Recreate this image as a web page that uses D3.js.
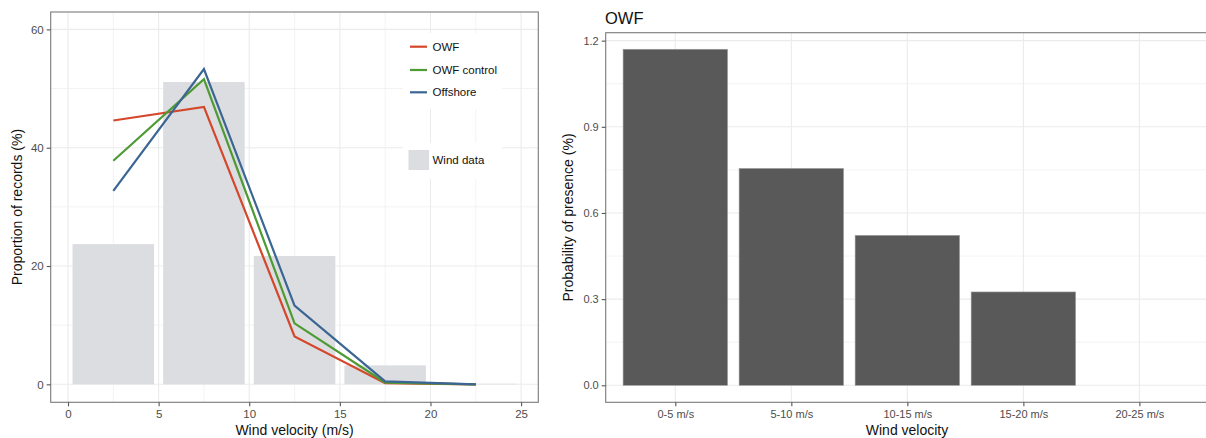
<!DOCTYPE html>
<html><head><meta charset="utf-8">
<script src="https://cdn.jsdelivr.net/npm/d3@7"></script>
<style>
body{margin:0;background:#fff;}
svg{display:block;font-family:"Liberation Sans",Arial,Helvetica,sans-serif;}
</style></head>
<body>
<svg id="chart" width="1206" height="438"></svg>
<script>
// ---- Left panel data ----
const windMid = [2.5, 7.5, 12.5, 17.5, 22.5];
const windData = [23.7, 51.1, 21.7, 3.2, 0.1];
const owf = [44.6, 46.9, 8.1, 0.2, 0.0];
const owfControl = [37.8, 51.6, 10.3, 0.3, 0.0];
const offshore = [32.7, 53.3, 13.3, 0.5, 0.0];
const leftXTicks = [0, 5, 10, 15, 20, 25];
const leftYTicks = [0, 20, 40, 60];
const seriesNames = ["OWF", "OWF control", "Offshore"];
const seriesColors = ["#d4472b", "#4e9a33", "#3b6592"];

// ---- Right panel data ----
const categories = ["0-5 m/s", "5-10 m/s", "10-15 m/s", "15-20 m/s", "20-25 m/s"];
const presence = [1.17, 0.755, 0.522, 0.325, 0];
const rightYTicks = [0.0, 0.3, 0.6, 0.9, 1.2];

const svg = d3.select("#chart");
const gridCol = "#ebebeb", borderCol = "#7a7a7a", tickTxt = "#4d4d4d";

// ================= LEFT =================
const L = {x0: 50.7, x1: 538.3, y0: 12, y1: 402.3};
const xL = d3.scaleLinear().domain([-0.955, 25.95]).range([L.x0, L.x1]);
const yL = d3.scaleLinear().domain([-3.04, 62.94]).range([L.y1, L.y0]);
const gL = svg.append("g");
// minor grid
[2.5, 7.5, 12.5, 17.5, 22.5].forEach(v => gL.append("line").attr("x1", xL(v)).attr("x2", xL(v)).attr("y1", L.y0).attr("y2", L.y1).attr("stroke", gridCol).attr("stroke-width", 0.6));
[10, 30, 50].forEach(v => gL.append("line").attr("y1", yL(v)).attr("y2", yL(v)).attr("x1", L.x0).attr("x2", L.x1).attr("stroke", gridCol).attr("stroke-width", 0.6));
// major grid
leftXTicks.forEach(v => gL.append("line").attr("x1", xL(v)).attr("x2", xL(v)).attr("y1", L.y0).attr("y2", L.y1).attr("stroke", gridCol).attr("stroke-width", 1.1));
leftYTicks.forEach(v => gL.append("line").attr("y1", yL(v)).attr("y2", yL(v)).attr("x1", L.x0).attr("x2", L.x1).attr("stroke", gridCol).attr("stroke-width", 1.1));
// bars
gL.selectAll("rect.wind").data(windData).join("rect")
  .attr("x", (d, i) => xL(windMid[i] - 2.25))
  .attr("width", (d, i) => xL(windMid[i] + 2.25) - xL(windMid[i] - 2.25))
  .attr("y", d => yL(d)).attr("height", d => yL(0) - yL(d))
  .attr("fill", "#dcdde0");
// legend backgrounds
gL.append("rect").attr("x", 403).attr("y", 33).attr("width", 99).attr("height", 76).attr("fill", "#fff");
gL.append("rect").attr("x", 403).attr("y", 143).attr("width", 99).attr("height", 36).attr("fill", "#fff");
// lines
const lineGen = d3.line().x((d, i) => xL(windMid[i])).y(d => yL(d));
[owf, owfControl, offshore].forEach((s, k) => {
  gL.append("path").attr("d", lineGen(s)).attr("fill", "none").attr("stroke", seriesColors[k]).attr("stroke-width", 2.2).attr("stroke-linejoin", "miter");
});
// border
gL.append("rect").attr("x", L.x0).attr("y", L.y0).attr("width", L.x1 - L.x0).attr("height", L.y1 - L.y0).attr("fill", "none").attr("stroke", borderCol).attr("stroke-width", 1.1);
// axes
const axLx = gL.append("g").attr("transform", `translate(0,${L.y1})`).call(d3.axisBottom(xL).tickValues(leftXTicks).tickSize(4).tickPadding(4).tickFormat(d3.format("d")));
const axLy = gL.append("g").attr("transform", `translate(${L.x0},0)`).call(d3.axisLeft(yL).tickValues(leftYTicks).tickSize(4).tickPadding(3).tickFormat(d3.format("d")));
[axLx, axLy].forEach(a => {
  a.select(".domain").remove();
  a.selectAll(".tick line").attr("stroke", "#555").attr("stroke-width", 1.1);
  a.selectAll(".tick text").attr("fill", tickTxt).attr("font-size", 11.5).attr("font-family", "Liberation Sans, Arial, sans-serif");
});
// legend
const legY = [46.7, 70, 92.3];
seriesNames.forEach((n, k) => {
  gL.append("line").attr("x1", 410).attr("x2", 427).attr("y1", legY[k]).attr("y2", legY[k]).attr("stroke", seriesColors[k]).attr("stroke-width", 2.2);
  gL.append("text").attr("x", 432.5).attr("y", legY[k] + 4).attr("font-size", 11.5).attr("fill", "#111").text(n);
});
gL.append("rect").attr("x", 408.5).attr("y", 150).attr("width", 20.5).attr("height", 20).attr("fill", "#dcdde0");
gL.append("text").attr("x", 432.5).attr("y", 164).attr("font-size", 11.5).attr("fill", "#111").text("Wind data");
// axis titles
gL.append("text").attr("x", (L.x0 + L.x1) / 2).attr("y", 435).attr("text-anchor", "middle").attr("font-size", 14).attr("fill", "#111").text("Wind velocity (m/s)");
gL.append("text").attr("transform", `translate(22,${(L.y0 + L.y1) / 2}) rotate(-90)`).attr("text-anchor", "middle").attr("font-size", 14).attr("fill", "#111").text("Proportion of records (%)");

// ================= RIGHT =================
const R = {x0: 605.7, x1: 1209, y0: 32.7, y1: 402.3};
const step = (R.x1 - R.x0) / (categories.length + 0.2);
const xR = d3.scalePoint().domain(categories).range([R.x0 + 0.6 * step, R.x0 + (0.6 + categories.length - 1) * step]);
const yR = d3.scaleLinear().domain([-0.0592, 1.2277]).range([R.y1, R.y0]);
const gR = svg.append("g");
const minorY = [0.15, 0.45, 0.75, 1.05];
minorY.forEach(v => gR.append("line").attr("y1", yR(v)).attr("y2", yR(v)).attr("x1", R.x0).attr("x2", R.x1).attr("stroke", gridCol).attr("stroke-width", 0.6));
rightYTicks.forEach(v => gR.append("line").attr("y1", yR(v)).attr("y2", yR(v)).attr("x1", R.x0).attr("x2", R.x1).attr("stroke", gridCol).attr("stroke-width", 1.1));
categories.forEach(c => gR.append("line").attr("x1", xR(c)).attr("x2", xR(c)).attr("y1", R.y0).attr("y2", R.y1).attr("stroke", gridCol).attr("stroke-width", 1.1));
gR.selectAll("rect.bar").data(presence.filter(d => d > 0)).join("rect")
  .attr("x", (d, i) => xR(categories[i]) - 0.45 * step)
  .attr("width", 0.9 * step)
  .attr("y", d => yR(d)).attr("height", d => yR(0) - yR(d))
  .attr("fill", "#595959").attr("stroke", "#9a9a9a").attr("stroke-width", 0.6);
// border (top, left, bottom; right edge beyond view)
gR.append("rect").attr("x", R.x0).attr("y", R.y0).attr("width", R.x1 - R.x0).attr("height", R.y1 - R.y0).attr("fill", "none").attr("stroke", borderCol).attr("stroke-width", 1.1);
// axes
const axRx = gR.append("g").attr("transform", `translate(0,${R.y1})`).call(d3.axisBottom(xR).tickSize(4).tickPadding(4));
const axRy = gR.append("g").attr("transform", `translate(${R.x0},0)`).call(d3.axisLeft(yR).tickValues(rightYTicks).tickSize(4).tickPadding(3).tickFormat(d3.format(".1f")));
[axRx, axRy].forEach(a => {
  a.select(".domain").remove();
  a.selectAll(".tick line").attr("stroke", "#555").attr("stroke-width", 1.1);
  a.selectAll(".tick text").attr("fill", tickTxt).attr("font-size", 11).attr("font-family", "Liberation Sans, Arial, sans-serif");
});
gR.append("text").attr("x", 605).attr("y", 24).attr("font-size", 16.5).attr("fill", "#111").text("OWF");
gR.append("text").attr("x", 907).attr("y", 435).attr("text-anchor", "middle").attr("font-size", 14).attr("fill", "#111").text("Wind velocity");
gR.append("text").attr("transform", `translate(573,${(R.y0 + R.y1) / 2}) rotate(-90)`).attr("text-anchor", "middle").attr("font-size", 14).attr("fill", "#111").text("Probability of presence (%)");
</script>
</body></html>
